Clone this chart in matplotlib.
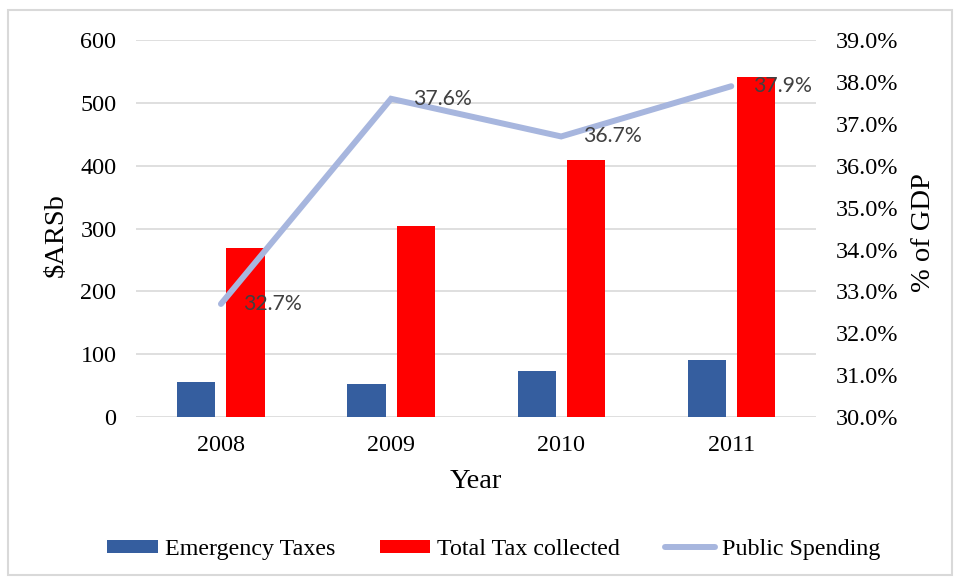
import matplotlib
matplotlib.use("Agg")
import matplotlib.pyplot as plt
from matplotlib.patches import Rectangle
from matplotlib.ticker import FuncFormatter, MultipleLocator

years = ["2008", "2009", "2010", "2011"]
emergency_taxes = [56, 52, 73, 91]
total_tax = [269, 304, 409, 541]
public_spending = [0.327, 0.376, 0.367, 0.379]
spending_labels = ["32.7%", "37.6%", "36.7%", "37.9%"]

SERIF = "Liberation Serif"
BLUE = "#355E9F"
RED = "#FF0000"
LINE = "#A7B6DE"
GRID = "#D9D9D9"

fig = plt.figure(figsize=(9.57, 5.82), dpi=100)
ax = fig.add_axes([0.142, 0.2835, 0.711, 0.6475])
ax2 = ax.twinx()

x = list(range(len(years)))
w = 0.224
off = 0.1445
b1 = ax.bar([i - off for i in x], emergency_taxes, width=w, color=BLUE,
            label="Emergency Taxes", zorder=3)
b2 = ax.bar([i + off for i in x], total_tax, width=w, color=RED,
            label="Total Tax collected", zorder=3)

ax.set_xlim(-0.5, 3.5)
ax.set_ylim(0, 600)
ax.yaxis.set_major_locator(MultipleLocator(100))
ax.set_xticks(x)
ax.set_xticklabels(years)
ax.grid(axis="y", color=GRID, linewidth=1.2, zorder=0)
ax.set_axisbelow(True)
for s in ax.spines.values():
    s.set_visible(False)
for s in ax2.spines.values():
    s.set_visible(False)
ax.tick_params(axis="both", length=0, labelsize=17.4)
ax.tick_params(axis="y", pad=14)
ax.tick_params(axis="x", pad=13)
for lab in ax.get_xticklabels() + ax.get_yticklabels():
    lab.set_fontfamily(SERIF)

ax2.set_ylim(0.30, 0.39)
ax2.yaxis.set_major_locator(MultipleLocator(0.01))
ax2.yaxis.set_major_formatter(FuncFormatter(lambda v, p: f"{v*100:.1f}%"))
ax2.tick_params(axis="y", length=0, labelsize=17.4, pad=14)
for lab in ax2.get_yticklabels():
    lab.set_fontfamily(SERIF)

ln, = ax2.plot(x, public_spending, color=LINE, linewidth=4.3,
               solid_capstyle="round", solid_joinstyle="miter",
               label="Public Spending", zorder=4)
for xi, yi, t in zip(x, public_spending, spending_labels):
    ax2.annotate(t, (xi, yi), xytext=(16, 0), textcoords="offset points",
                 ha="left", va="center", fontsize=15.3, family="Lato",
                 color="#404040", zorder=5)

fig.text(0.497, 1 - 482 / 582, "Year", ha="center", va="center",
         fontsize=20.5, family=SERIF)
fig.text(0.059, 0.596, "$ARSb", rotation=90, ha="center", va="center",
         fontsize=20.5, family=SERIF)
fig.text(0.965, 0.6, "% of GDP", rotation=90, ha="center", va="center",
         fontsize=20.5, family=SERIF)

leg = fig.legend(handles=[b1, b2, ln], loc="center", ncol=3,
                 bbox_to_anchor=(0.516, 0.056), frameon=False,
                 prop={"family": SERIF, "size": 17.3},
                 handlelength=2.1, handleheight=0.45, handletextpad=0.3,
                 columnspacing=1.85)

fig.patches.append(Rectangle((8 / 957, 1 - 575 / 582), 944 / 957, 565 / 582,
                             transform=fig.transFigure, fill=False,
                             edgecolor=GRID, linewidth=1.5, zorder=0))

fig.savefig("out.png", dpi=100)
